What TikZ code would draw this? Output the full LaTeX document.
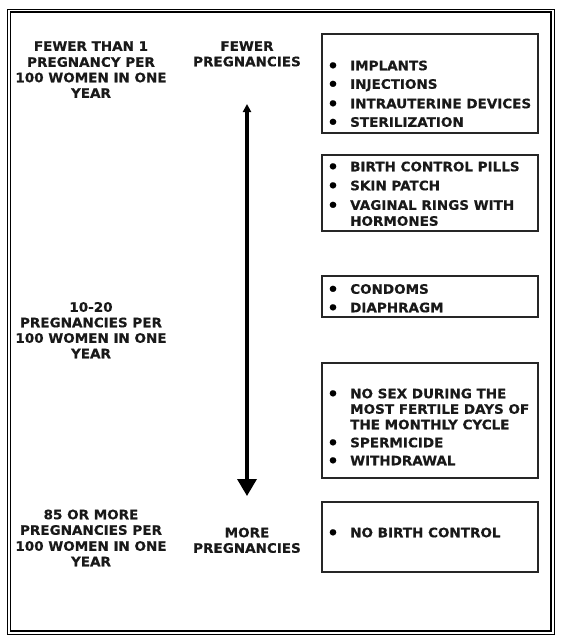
\documentclass[tikz,border=0pt]{standalone}
\usepackage{fontspec}
\setmainfont{DejaVu Sans}[FakeStretch=1.04, BoldFeatures={FakeBold=0.5}]
\usetikzlibrary{arrows.meta}
\tikzset{
  txt/.style={inner sep=0pt, text height=9.5pt, text depth=0pt, font=\fontsize{13}{15}\selectfont\bfseries, text=black!90},
  lt/.style={txt, anchor=west},
  ct/.style={txt, anchor=center},
  blt/.style={inner sep=0pt, anchor=center, yshift=-1.5pt, font=\fontsize{17}{17}\selectfont\bfseries},
  box/.style={draw=black!85, line width=1.3pt, inner sep=0pt, minimum width=216pt},
}
\begin{document}
\begin{tikzpicture}[x=1pt,y=-1pt]
\useasboundingbox (0,0) rectangle (563,643);
% frame
\node[draw, line width=1pt, inner sep=0pt, minimum width=547pt, minimum height=625pt] (outer) at (280.5,321.5) {};
\node[draw, line width=1.8pt, inner sep=0pt, minimum width=540.5pt, minimum height=619pt] (inner) at (280.75,321.5) {};
% left column
\node[ct] (l1a) at (91,46) {FEWER THAN 1};
\node[ct] (l1b) at (91,62) {PREGNANCY PER};
\node[ct] (l1c) at (91,77.5) {100 WOMEN IN ONE};
\node[ct] (l1d) at (91,93) {YEAR};
\node[ct] (l2a) at (91,307) {10-20};
\node[ct] (l2b) at (91,322.5) {PREGNANCIES PER};
\node[ct] (l2c) at (91,338) {100 WOMEN IN ONE};
\node[ct] (l2d) at (91,353.5) {YEAR};
\node[ct] (l3a) at (91,514.5) {85 OR MORE};
\node[ct] (l3b) at (91,530) {PREGNANCIES PER};
\node[ct] (l3c) at (91,546) {100 WOMEN IN ONE};
\node[ct] (l3d) at (91,561.5) {YEAR};
% middle column
\node[ct] (m1a) at (247,46) {FEWER};
\node[ct] (m1b) at (247,61.5) {PREGNANCIES};
\node[ct] (m2a) at (247,532.5) {MORE};
\node[ct] (m2b) at (247,548) {PREGNANCIES};
\coordinate (atop) at (247,104);
\coordinate (abot) at (247,496);
\draw[line width=3.5pt, {Triangle[width=8pt,length=8pt]}-{Triangle[width=19pt,length=17pt]}] (atop) -- (abot);
% boxes
\node[box, minimum height=99pt] (b1) at (430,83.5) {};
\node[box, minimum height=76pt] (b2) at (430,193) {};
\node[box, minimum height=41pt] (b3) at (430,296.5) {};
\node[box, minimum height=115pt] (b4) at (430,420.5) {};
\node[box, minimum height=70pt] (b5) at (430,537) {};
% box 1
\node[blt] (p1) at (333,65.5) {•};
\node[lt] (t1) at (350,65.5) {IMPLANTS};
\node[blt] (p2) at (333,84) {•};
\node[lt] (t2) at (350,84) {INJECTIONS};
\node[blt] (p3) at (333,103.5) {•};
\node[lt] (t3) at (350,103.5) {INTRAUTERINE DEVICES};
\node[blt] (p4) at (333,122) {•};
\node[lt] (t4) at (350,122) {STERILIZATION};
% box 2
\node[blt] (p5) at (333,166.5) {•};
\node[lt] (t5) at (350,166.5) {BIRTH CONTROL PILLS};
\node[blt] (p6) at (333,185.5) {•};
\node[lt] (t6) at (350,185.5) {SKIN PATCH};
\node[blt] (p7) at (333,205) {•};
\node[lt] (t7) at (350,205) {VAGINAL RINGS WITH};
\node[lt] (t7b) at (350,221) {HORMONES};
% box 3
\node[blt] (p8) at (333,289) {•};
\node[lt] (t8) at (350,289) {CONDOMS};
\node[blt] (p9) at (333,307.5) {•};
\node[lt] (t9) at (350,307.5) {DIAPHRAGM};
% box 4
\node[blt] (p10) at (333,393.5) {•};
\node[lt] (t10) at (350,393.5) {NO SEX DURING THE};
\node[lt] (t10b) at (350,409) {MOST FERTILE DAYS OF};
\node[lt] (t10c) at (350,424.5) {THE MONTHLY CYCLE};
\node[blt] (p11) at (333,442.5) {•};
\node[lt] (t11) at (350,442.5) {SPERMICIDE};
\node[blt] (p12) at (333,460.5) {•};
\node[lt] (t12) at (350,460.5) {WITHDRAWAL};
% box 5
\node[blt] (p13) at (333,532.5) {•};
\node[lt] (t13) at (350,532.5) {NO BIRTH CONTROL};
\end{tikzpicture}
\end{document}
